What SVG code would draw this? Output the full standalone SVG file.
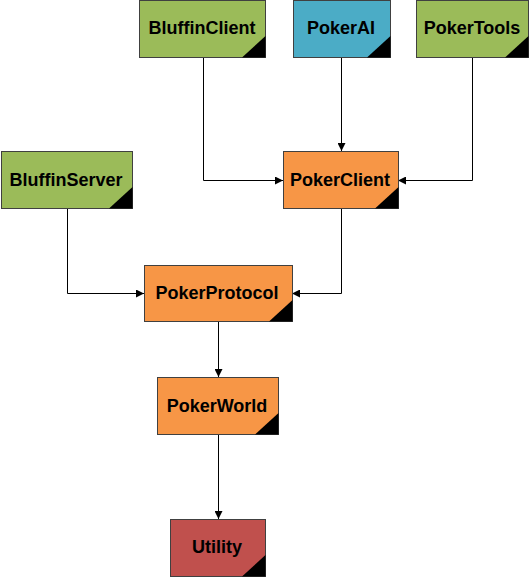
<svg xmlns="http://www.w3.org/2000/svg" width="530" height="577" viewBox="0 0 530 577">
<style>
.box{stroke:#404040;stroke-width:1}
.g{fill:#9BBB59}.b{fill:#4BACC6}.o{fill:#F79646}.r{fill:#C0504D}
.tri{fill:#000}
.lbl{font-family:"Liberation Sans",Arial,sans-serif;font-weight:bold;font-size:18px;fill:#000;text-anchor:middle;dominant-baseline:central}
.c{fill:none;stroke:#000;stroke-width:1}
</style>
<defs>
<marker id="ah" viewBox="0 0 10 10" refX="10" refY="5" markerWidth="8" markerHeight="8" markerUnits="userSpaceOnUse" orient="auto">
<path d="M0,0 L10,5 L0,10 z" fill="#000"/>
</marker>
</defs>
<rect width="530" height="577" fill="#fff"/>
<g id="connectors">
<path class="c" d="M203.5,57 V180.5 H283" marker-end="url(#ah)"/>
<path class="c" d="M341.5,57 V151" marker-end="url(#ah)"/>
<path class="c" d="M472.5,57 V180.5 H398" marker-end="url(#ah)"/>
<path class="c" d="M67.5,208 V293.5 H144" marker-end="url(#ah)"/>
<path class="c" d="M341.5,208 V293.5 H292" marker-end="url(#ah)"/>
<path class="c" d="M218.5,321 V377" marker-end="url(#ah)"/>
<path class="c" d="M218.5,434 V519" marker-end="url(#ah)"/>
</g>
<g id="BluffinClient">
<rect class="box g" x="139.5" y="0.5" width="126" height="57"/>
<path class="tri" d="M242,57.5 L265.5,57.5 L265.5,36 z"/>
<text class="lbl" x="202" y="28">BluffinClient</text>
</g>
<g id="PokerAI">
<rect class="box b" x="293.5" y="0.5" width="97" height="57"/>
<path class="tri" d="M367,57.5 L390.5,57.5 L390.5,36 z"/>
<text class="lbl" x="341" y="28">PokerAI</text>
</g>
<g id="PokerTools">
<rect class="box g" x="416.5" y="0.5" width="112" height="57"/>
<path class="tri" d="M505,57.5 L528.5,57.5 L528.5,36 z"/>
<text class="lbl" x="472" y="28">PokerTools</text>
</g>
<g id="BluffinServer">
<rect class="box g" x="1.5" y="151.5" width="131" height="57"/>
<path class="tri" d="M109,208.5 L132.5,208.5 L132.5,187 z"/>
<text class="lbl" x="66" y="180">BluffinServer</text>
</g>
<g id="PokerClient">
<rect class="box o" x="283.5" y="151.5" width="115" height="57"/>
<path class="tri" d="M375,208.5 L398.5,208.5 L398.5,187 z"/>
<text class="lbl" x="340" y="180">PokerClient</text>
</g>
<g id="PokerProtocol">
<rect class="box o" x="144.5" y="265.5" width="148" height="56"/>
<path class="tri" d="M269,321.5 L292.5,321.5 L292.5,300 z"/>
<text class="lbl" x="217" y="293">PokerProtocol</text>
</g>
<g id="PokerWorld">
<rect class="box o" x="157.5" y="377.5" width="121" height="57"/>
<path class="tri" d="M255,434.5 L278.5,434.5 L278.5,413 z"/>
<text class="lbl" x="217" y="406">PokerWorld</text>
</g>
<g id="Utility">
<rect class="box r" x="170.5" y="519.5" width="95" height="57"/>
<path class="tri" d="M242,576.5 L265.5,576.5 L265.5,555 z"/>
<text class="lbl" x="217" y="547">Utility</text>
</g>
</svg>
